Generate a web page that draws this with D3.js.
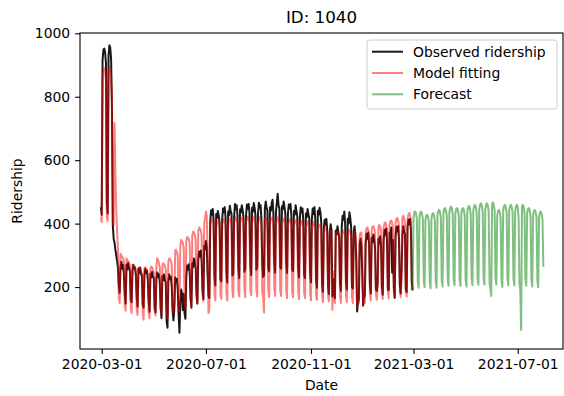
<!DOCTYPE html>
<html>
<head>
<meta charset="utf-8">
<script src="https://cdn.jsdelivr.net/npm/d3@7"></script>
<style>
  html, body { margin: 0; padding: 0; background: #fff; }
  svg { display: block; font-family: "DejaVu Sans", sans-serif; }
</style>
</head>
<body>
<svg id="chart" width="564" height="396"></svg>
<script>
// Daily ridership for station 1040, one row per week (Mon..Sun)
const observedStart = "2020-02-29";
const observed = [
  452, 428,
  915, 948, 952, 940, 905, 468, 432,
  930, 962, 955, 918, 760, 395, 352,
  340, 318, 300, 282, 262, 205, 182,
  262, 280, 258, 270, 240, 178, 148,
  270, 255, 276, 262, 250, 160, 152,
  252, 270, 258, 262, 236, 168, 138,
  258, 245, 262, 240, 238, 148, 135,
  238, 258, 244, 252, 222, 156, 122,
  242, 230, 248, 232, 228, 134, 120,
  225, 246, 232, 240, 212, 135, 102,
  235, 222, 240, 220, 215, 92, 72,
  218, 240, 225, 232, 200, 125, 95,
  130, 230, 218, 226, 195, 115, 56,
  150, 192, 180, 128, 178, 118, 100,
  232, 268, 255, 272, 245, 165, 135,
  275, 262, 290, 278, 260, 178, 148,
  285, 312, 296, 315, 280, 190, 162,
  330, 318, 345, 325, 238, 172, 165,
  405, 442, 428, 446, 412, 238, 205,
  430, 418, 440, 425, 402, 226, 218,
  412, 448, 436, 452, 418, 252, 214,
  438, 426, 456, 440, 430, 236, 242,
  420, 462, 445, 458, 425, 260, 228,
  445, 436, 458, 442, 418, 248, 256,
  428, 460, 447, 462, 435, 272, 238,
  450, 438, 465, 450, 426, 255, 262,
  432, 466, 450, 458, 412, 268, 232,
  235, 448, 470, 452, 440, 258, 250,
  452, 440, 465, 475, 430, 275, 245,
  438, 466, 494, 458, 448, 262, 258,
  455, 446, 470, 452, 430, 278, 244,
  432, 460, 448, 462, 425, 255, 250,
  440, 428, 458, 440, 422, 262, 230,
  418, 452, 436, 448, 410, 238, 228,
  432, 420, 446, 430, 418, 245, 215,
  412, 448, 430, 452, 415, 222, 198,
  440, 428, 450, 436, 405, 210, 185,
  385, 412, 398, 415, 380, 200, 178,
  372, 398, 380, 170, 225, 182, 165,
  378, 365, 392, 375, 358, 210, 188,
  388, 425, 412, 438, 398, 215, 192,
  415, 400, 436, 418, 390, 200, 195,
  372, 392, 355, 285, 123, 152, 160,
  338, 352, 330, 245, 142, 166, 172,
  338, 368, 352, 372, 335, 205, 180,
  355, 342, 366, 348, 322, 192, 188,
  212, 352, 338, 360, 325, 200, 176,
  348, 380, 365, 385, 345, 192, 190,
  372, 362, 388, 245, 348, 198, 166,
  358, 390, 375, 392, 352, 205, 180,
  252, 365, 392, 372, 368, 194, 184,
  388, 412, 398, 415, 380, 218, 190
];

// Model fit over the same days
const fitted = [
  420, 405,
  860, 885, 890, 880, 850, 420, 408,
  870, 892, 888, 860, 800, 402, 395,
  717, 560, 450, 375, 320, 165, 150,
  305, 300, 296, 290, 280, 140, 125,
  290, 285, 282, 276, 265, 135, 118,
  270, 268, 265, 260, 250, 128, 112,
  262, 262, 258, 252, 242, 122, 97,
  260, 262, 258, 252, 240, 118, 102,
  258, 265, 262, 255, 245, 125, 110,
  270, 291, 285, 275, 262, 130, 115,
  265, 275, 272, 266, 255, 120, 100,
  280, 290, 288, 282, 270, 135, 118,
  150, 315, 318, 310, 298, 140, 122,
  330, 349, 345, 338, 325, 150, 132,
  345, 358, 356, 350, 338, 160, 140,
  360, 375, 372, 365, 350, 168, 148,
  375, 388, 385, 378, 365, 175, 155,
  400, 420, 438, 425, 300, 118, 130,
  398, 412, 405, 415, 388, 182, 158,
  388, 408, 402, 410, 382, 176, 162,
  400, 405, 414, 408, 390, 184, 158,
  395, 415, 410, 418, 388, 188, 168,
  405, 410, 420, 412, 395, 185, 170,
  398, 418, 412, 420, 392, 194, 168,
  408, 412, 422, 414, 398, 190, 175,
  400, 420, 415, 422, 392, 196, 170,
  405, 412, 420, 412, 388, 182, 168,
  120, 415, 410, 418, 395, 192, 168,
  398, 418, 412, 420, 390, 195, 172,
  405, 410, 420, 412, 395, 188, 172,
  395, 415, 408, 416, 388, 190, 165,
  400, 405, 414, 406, 390, 184, 168,
  388, 410, 402, 412, 382, 186, 162,
  395, 400, 410, 398, 385, 180, 165,
  385, 405, 398, 408, 375, 182, 158,
  390, 395, 405, 395, 378, 176, 160,
  378, 396, 390, 398, 368, 178, 152,
  375, 382, 392, 380, 365, 170, 155,
  365, 378, 375, 128, 250, 168, 150,
  360, 372, 375, 368, 352, 170, 150,
  362, 375, 378, 370, 355, 172, 152,
  365, 378, 380, 372, 358, 170, 150,
  362, 375, 372, 300, 135, 160, 148,
  360, 372, 370, 310, 140, 162, 150,
  372, 385, 388, 380, 365, 178, 158,
  378, 390, 392, 385, 370, 180, 160,
  200, 392, 396, 390, 375, 182, 162,
  388, 400, 404, 396, 380, 184, 164,
  395, 408, 410, 402, 386, 186, 166,
  402, 415, 418, 410, 394, 188, 168,
  230, 420, 425, 418, 400, 190, 170,
  415, 428, 434, 426, 408, 192, 190
];

// Forecast, starting from the last observed day
const forecastStart = "2021-02-28";
const forecast = [
  190,
  418, 436, 438, 432, 412, 218, 198,
  420, 436, 438, 431, 412, 220, 200,
  412, 426, 428, 422, 405, 216, 196,
  416, 430, 433, 427, 408, 218, 198,
  425, 440, 443, 436, 418, 222, 202,
  432, 446, 449, 442, 424, 225, 204,
  436, 450, 454, 447, 428, 226, 206,
  432, 446, 449, 443, 424, 224, 203,
  432, 446, 449, 442, 424, 224, 202,
  438, 452, 456, 449, 430, 228, 206,
  440, 455, 459, 452, 433, 228, 207,
  446, 460, 464, 456, 438, 230, 208,
  446, 460, 464, 457, 438, 215, 195,
  172, 462, 467, 460, 440, 230, 208,
  426, 440, 443, 436, 418, 222, 200,
  442, 456, 459, 452, 434, 228, 206,
  442, 455, 459, 452, 433, 227, 205,
  440, 455, 459, 452, 420, 212, 192,
  65, 455, 459, 452, 434, 226, 204,
  432, 446, 449, 442, 424, 224, 202,
  428, 440, 443, 436, 418, 222, 200,
  422, 435, 438, 431, 412, 264
];

const yTicks = [200, 400, 600, 800, 1000];
const xTickLabels = ["2020-03-01", "2020-07-01", "2020-11-01", "2021-03-01", "2021-07-01"];
const seriesNames = ["Observed ridership", "Model fitting", "Forecast"];

const parse = d3.utcParse("%Y-%m-%d");
const fmt = d3.utcFormat("%Y-%m-%d");

const margin = { left: 80, right: 1, top: 33, bottom: 47 };
const W = 564, H = 396;
const svg = d3.select("#chart");

const x = d3.scaleUtc()
  .domain([new Date(Date.UTC(2020, 1, 4, 14)), new Date(Date.UTC(2021, 7, 23))])
  .range([margin.left, W - margin.right]);
const y = d3.scaleLinear()
  .domain([4.7, 1001])
  .range([H - margin.bottom, margin.top]);

function toPoints(start, values) {
  const s = parse(start);
  return values.map((v, i) => ({ date: d3.utcDay.offset(s, i), value: v }));
}

const line = d3.line()
  .x(d => x(d.date))
  .y(d => y(d.value));

const plot = svg.append("g");
const series = [
  { data: toPoints(observedStart, observed), color: "#000000", opacity: 0.9 },
  { data: toPoints(observedStart, fitted), color: "#ff0000", opacity: 0.5 },
  { data: toPoints(forecastStart, forecast), color: "#008000", opacity: 0.5 }
];
series.forEach(s => {
  plot.append("path")
    .datum(s.data)
    .attr("fill", "none")
    .attr("stroke", s.color)
    .attr("stroke-opacity", s.opacity)
    .attr("stroke-width", 2)
    .attr("stroke-linejoin", "round")
    .attr("d", line);
});

// Axes
const xAxis = d3.axisBottom(x)
  .tickValues(xTickLabels.map(parse))
  .tickFormat(fmt)
  .tickSize(4.9)
  .tickPadding(4.9);
const yAxis = d3.axisLeft(y)
  .tickValues(yTicks)
  .tickFormat(d3.format("d"))
  .tickSize(4.9)
  .tickPadding(4.9);

const gx = svg.append("g")
  .attr("transform", `translate(0,${H - margin.bottom})`)
  .call(xAxis);
const gy = svg.append("g")
  .attr("transform", `translate(${margin.left},0)`)
  .call(yAxis);
[gx, gy].forEach(g => {
  g.select(".domain").remove();
  g.selectAll(".tick line").attr("stroke", "#000").attr("stroke-width", 1.1);
  g.selectAll(".tick text")
    .attr("fill", "#000")
    .style("font-family", "DejaVu Sans")
    .style("font-size", "13.9px");
});

// Frame
svg.append("rect")
  .attr("x", margin.left)
  .attr("y", margin.top)
  .attr("width", W - margin.right - margin.left)
  .attr("height", H - margin.bottom - margin.top)
  .attr("fill", "none")
  .attr("stroke", "#000")
  .attr("stroke-width", 1.1);

// Labels
svg.append("text")
  .attr("x", (margin.left + W - margin.right) / 2)
  .attr("y", 23)
  .attr("text-anchor", "middle")
  .style("font-size", "16.7px")
  .text("ID: 1040");
svg.append("text")
  .attr("x", (margin.left + W - margin.right) / 2)
  .attr("y", 390)
  .attr("text-anchor", "middle")
  .style("font-size", "13.9px")
  .text("Date");
svg.append("text")
  .attr("transform", `translate(22,${(margin.top + H - margin.bottom) / 2}) rotate(-90)`)
  .attr("text-anchor", "middle")
  .style("font-size", "13.9px")
  .text("Ridership");

// Legend
const legend = svg.append("g").attr("transform", "translate(367,40)");
legend.append("rect")
  .attr("width", 190)
  .attr("height", 69)
  .attr("rx", 3)
  .attr("fill", "#fff")
  .attr("fill-opacity", 0.8)
  .attr("stroke", "#cccccc");
seriesNames.forEach((name, i) => {
  const cy = 11.7 + i * 21.3;
  legend.append("line")
    .attr("x1", 5).attr("x2", 36)
    .attr("y1", cy).attr("y2", cy)
    .attr("stroke", series[i].color)
    .attr("stroke-opacity", series[i].opacity)
    .attr("stroke-width", 2);
  legend.append("text")
    .attr("x", 46)
    .attr("y", cy + 5)
    .style("font-size", "13.9px")
    .text(name);
});
</script>
</body>
</html>
